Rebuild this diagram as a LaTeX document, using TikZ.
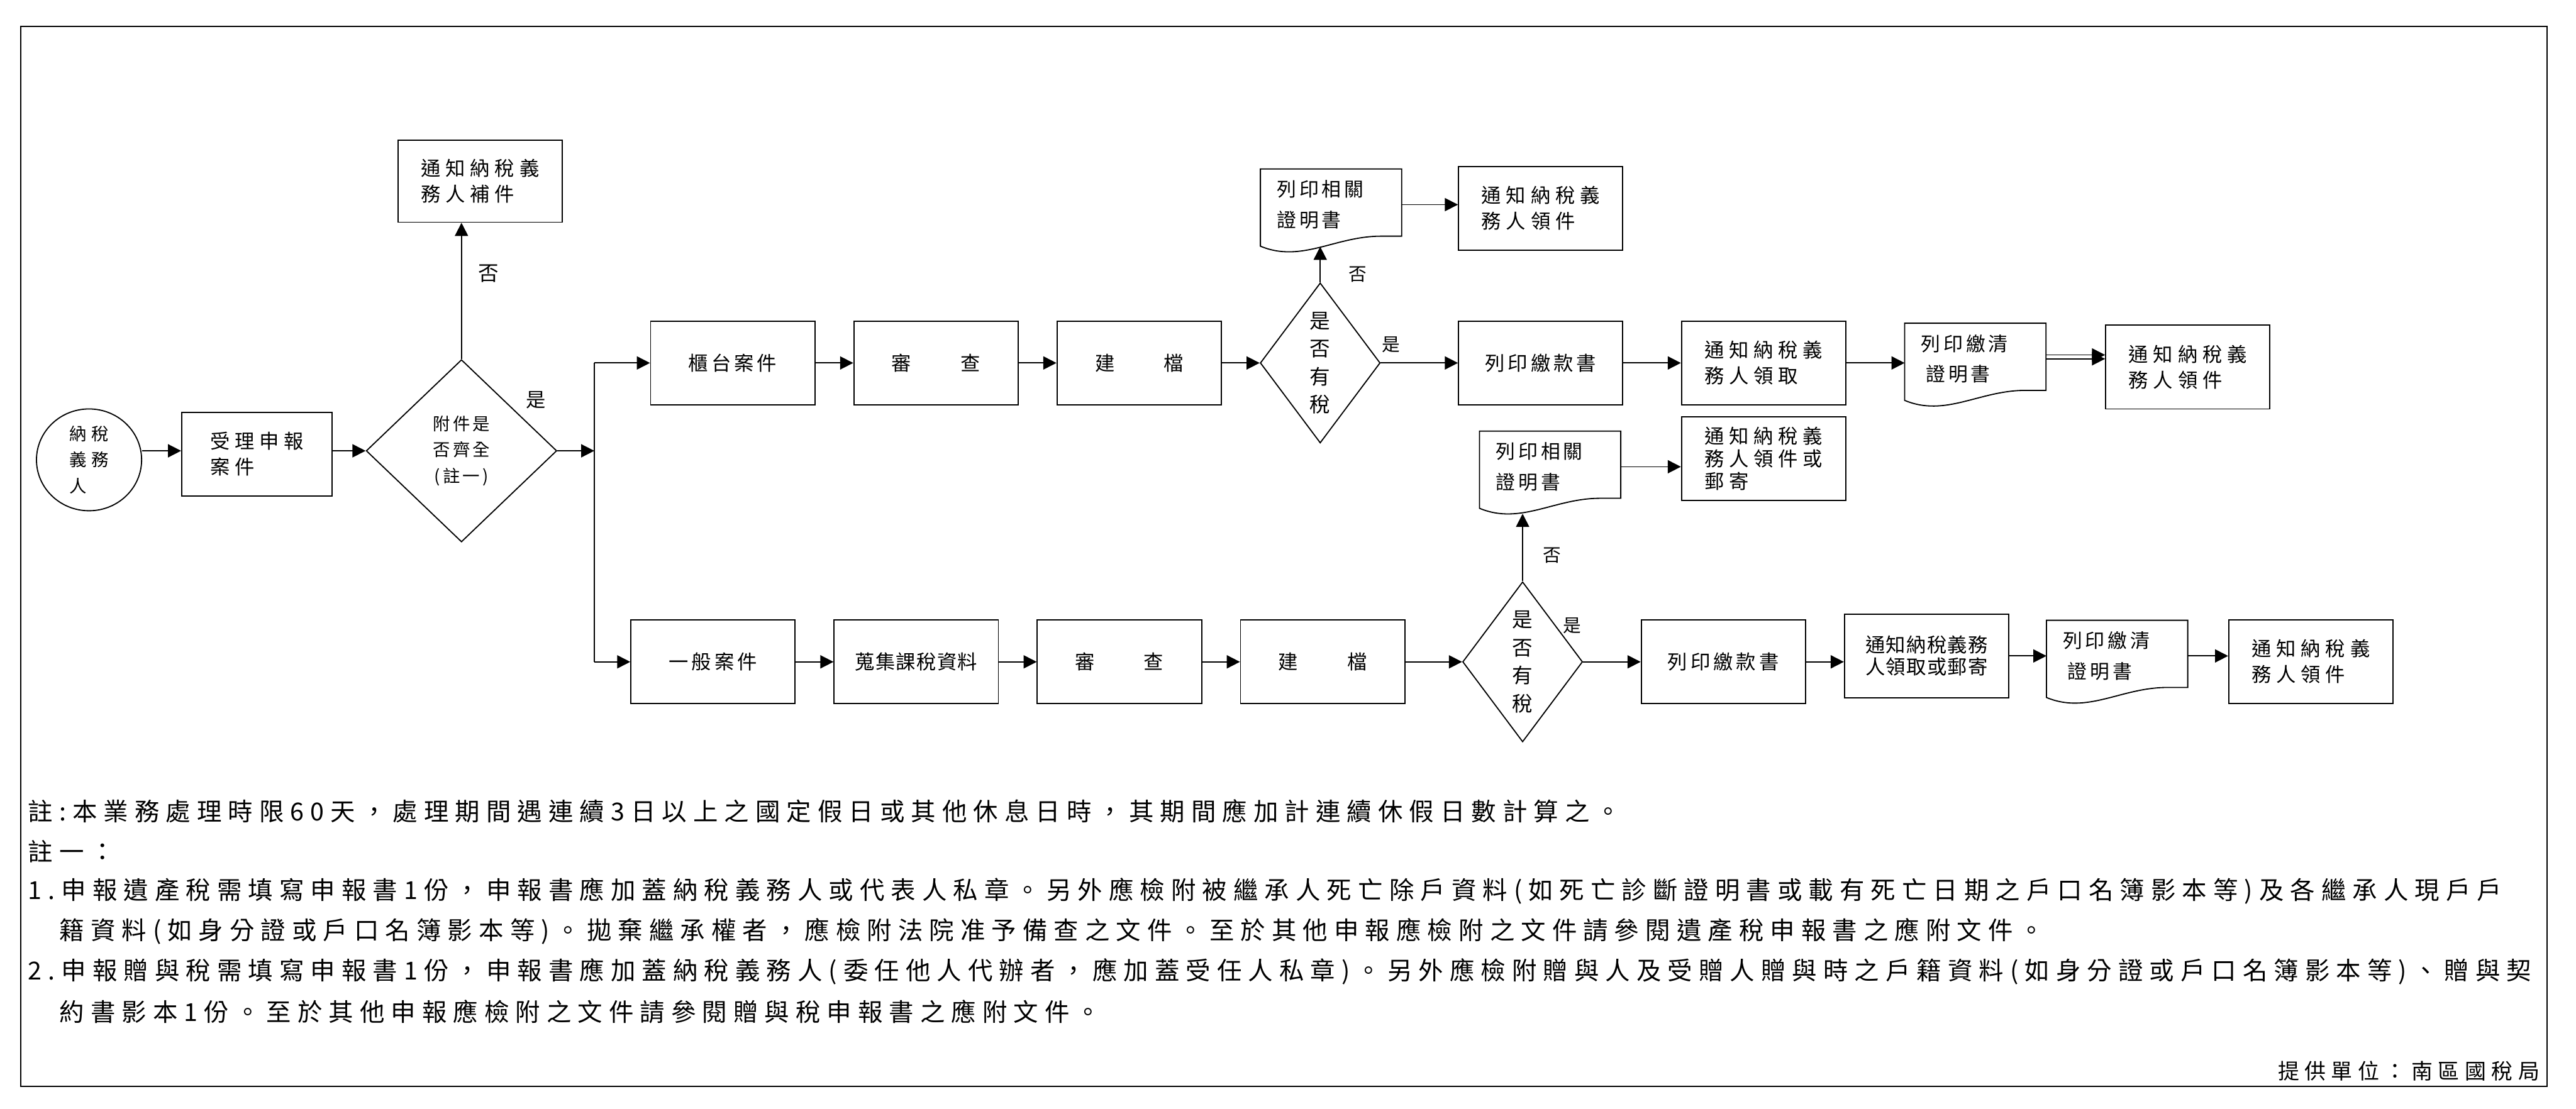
\documentclass[tikz,border=0pt]{standalone}
\usepackage{fontspec}
\setmainfont{Noto Sans CJK TC}
\newfontfamily\cjkwide{Noto Sans CJK TC}[LetterSpace=25]
\newfontfamily\cjkmid{Noto Sans CJK TC}[LetterSpace=16]
\newfontfamily\cjktight{Noto Sans CJK TC}[LetterSpace=4]
\newfontfamily\cjknote{Noto Sans CJK TC}[LetterSpace=25.5]
\usetikzlibrary{shapes.geometric,arrows.meta,positioning,calc}
\newcommand{\docframe}[1]{%
  \draw[line width=0.7pt] (#1.north west) -- ([yshift=-3.6pt]#1.south west)
    .. controls +(25pt,-10.4pt) and +(-28pt,0pt) .. ([xshift=-12.6pt,yshift=2.5pt]#1.south east)
    -- ([yshift=2.5pt]#1.south east) -- (#1.north east) -- cycle;}
\tikzset{
  procbox/.style ={rectangle, draw, line width=0.7pt, minimum width=100pt, minimum height=51pt,
                   inner sep=2pt, align=left, font=\cjkwide\fontsize{12}{15.7}\selectfont},
  procmid/.style ={procbox, font=\cjkmid\fontsize{12}{15.7}\selectfont},
  proctight/.style={procbox, font=\cjktight\fontsize{12}{13.5}\selectfont},
  actor/.style   ={ellipse, draw, line width=0.7pt, minimum width=64pt, minimum height=62pt,
                   inner sep=0pt, align=left, font=\cjkwide\fontsize{10.5}{15.8}\selectfont},
  check/.style   ={diamond, draw, line width=0.7pt, aspect=1.045, minimum width=116pt,
                   minimum height=111pt, inner sep=0pt, align=center,
                   font=\cjkmid\fontsize{10.5}{16}\selectfont},
  taxdia/.style  ={diamond, draw, line width=0.7pt, aspect=0.76, minimum width=73pt,
                   minimum height=97.5pt, inner sep=0pt, align=center,
                   font=\cjkwide\fontsize{12.5}{17}\selectfont},
  docbox/.style  ={rectangle, minimum width=85.6pt, minimum height=43pt, inner sep=0pt,
                   text width=66pt, align=left, font=\cjkmid\fontsize{11.8}{18.6}\selectfont},
  flow/.style    ={-{Triangle[length=8pt,width=8pt]}, line width=0.7pt},
  lbl/.style     ={inner sep=0pt, font=\cjkwide\fontsize{11}{13}\selectfont},
  notetext/.style={anchor=west, inner sep=0pt, font=\cjknote\fontsize{15.1}{18}\selectfont}
}
\begin{document}
\begin{tikzpicture}[x=1pt, y=1pt]
\useasboundingbox (0,0) rectangle (1568,-675);
\draw[line width=0.8pt] (12.8,-16) rectangle (1550.5,-661.5);

\node[actor] (tp) at (54.2,-280) {納稅\\義務\\人};
\node[procbox, minimum width=91.6pt, right=23.7pt of tp, yshift=3.5pt] (acc) {受理申報\\案件};
\node[check, right=20pt of acc, yshift=2pt] (chk) {附件是\\否齊全\\(註一)};
\node[procbox, minimum height=50pt, above=83pt of chk, xshift=11.3pt] (sup) {通知納稅義\\務人補件};
\coordinate (split) at ([xshift=22.5pt]chk.east);
\node[lbl, font=\cjkwide\fontsize{12}{13}\selectfont] (yes0) at ([xshift=-13pt,yshift=31pt]chk.east) {是};

\node[procmid] (ctr) at (446,-221) {櫃台案件};
\node[procmid, right=23pt of ctr] (rev1) {審　　查};
\node[procmid, right=23pt of rev1] (arc1) {建　　檔};
\node[taxdia, right=23pt of arc1] (tax1) {是\\否\\有\\稅};
\node[procmid, right=47pt of tax1] (pay1) {列印繳款書};
\node[procbox, right=35pt of pay1] (ntf1) {通知納稅義\\務人領取};
\node[docbox, right=35.5pt of ntf1, yshift=2.5pt] (clr1) {列印繳清\\\hspace*{3pt}證明書};
\node[procbox, right=36pt of clr1, yshift=-5pt] (get1) {通知納稅義\\務人領件};
\node[docbox, above=25.6pt of tax1, xshift=6.6pt] (prt1) {列印相關\\證明書};
\node[procbox, above=42.5pt of pay1] (get0) {通知納稅義\\務人領件};
\node[procbox, below=6.5pt of ntf1, font=\cjkwide\fontsize{12}{13.8}\selectfont] (mail) {通知納稅義\\務人領件或\\郵寄};
\node[docbox, left=36.6pt of mail, yshift=-5pt] (prt2) {列印相關\\證明書};

\node[procmid] (gen) at (434,-403) {一般案件};
\node[proctight, right=23pt of gen] (col) {蒐集課稅資料};
\node[procmid, right=23pt of col] (rev2) {審　　查};
\node[procmid, right=23pt of rev2] (arc2) {建　　檔};
\node[taxdia, right=34.5pt of arc2] (tax2) {是\\否\\有\\稅};
\node[procmid, right=35pt of tax2] (pay2) {列印繳款書};
\node[proctight, right=23pt of pay2, yshift=3.6pt] (ntf2) {通知納稅義務\\人領取或郵寄};
\node[docbox, right=22.6pt of ntf2] (clr2) {列印繳清\\\hspace*{3pt}證明書};
\node[procbox, right=24.6pt of clr2, yshift=-3.4pt] (get2) {通知納稅義\\務人領件};
\node[lbl] (yes3) at ([xshift=-6.5pt,yshift=22pt]tax2.east) {是};

\docframe{prt1}
\docframe{clr1}
\docframe{prt2}
\docframe{clr2}
\coordinate (prt1bot) at ([yshift=-3.9pt]prt1.south);
\coordinate (prt2bot) at ([yshift=-6.9pt]prt2.south);

\draw[flow] (tp.east |- chk.west) -- (acc.west |- chk.west);
\draw[flow] (acc.east |- chk.west) -- (chk.west);
\draw[flow] (chk.north) -- node[lbl, pos=0.63, right=10pt, font=\cjkwide\fontsize{12.5}{14}\selectfont]{否} (chk.north |- sup.south);
\draw[flow] (chk.east) -- (split);
\draw[line width=0.7pt] (split |- ctr.west) -- (split |- gen.west);
\draw[flow] (split |- ctr.west) -- (ctr.west);
\draw[flow] (split |- gen.west) -- (gen.west);

\draw[flow] (ctr) -- (rev1);
\draw[flow] (rev1) -- (arc1);
\draw[flow] (arc1) -- (tax1);
\draw[flow] (tax1) -- node[lbl, pos=0.13, above=6pt]{是} (pay1);
\draw[flow] (pay1) -- (ntf1);
\draw[flow] (ntf1.east) -- (ntf1.east -| clr1.west);
\draw[flow] (clr1.east) -- (clr1.east -| get1.west);
\draw[flow, transform canvas={yshift=2.4pt}] (clr1.east) -- (clr1.east -| get1.west);
\draw[flow] (tax1.north) -- node[lbl, pos=0.22, right=17pt]{否} (tax1.north |- prt1bot);
\draw[flow] (prt1.east) -- (prt1.east -| get0.west);
\draw[flow] (prt2.east) -- (prt2.east -| mail.west);

\draw[flow] (gen) -- (col);
\draw[flow] (col) -- (rev2);
\draw[flow] (rev2) -- (arc2);
\draw[flow] (arc2) -- (tax2);
\draw[flow] (tax2) -- (pay2);
\draw[flow] (pay2.east) -- (pay2.east -| ntf2.west);
\draw[flow] (ntf2) -- (clr2);
\draw[flow] (clr2.east) -- (clr2.east -| get2.west);
\draw[flow] (tax2.north) -- node[lbl, pos=0.38, right=12pt]{否} (tax2.north |- prt2bot);

\node[notetext] (n1) at (17,-493.9) {註:本業務處理時限60天，處理期間遇連續3日以上之國定假日或其他休息日時，其期間應加計連續休假日數計算之。};
\node[notetext, below=24.4pt of n1.west, anchor=west] (n2) {註一：};
\node[notetext, below=24.4pt of n2.west, anchor=west] (n3) {1.申報遺產稅需填寫申報書1份，申報書應加蓋納稅義務人或代表人私章。另外應檢附被繼承人死亡除戶資料(如死亡診斷證明書或載有死亡日期之戶口名簿影本等)及各繼承人現戶戶};
\node[notetext, below=24.4pt of n3.west, anchor=west, xshift=19pt] (n4) {籍資料(如身分證或戶口名簿影本等)。拋棄繼承權者，應檢附法院准予備查之文件。至於其他申報應檢附之文件請參閱遺產稅申報書之應附文件。};
\node[notetext, below=24.4pt of n3.west, anchor=west, yshift=-24.4pt] (n5) {2.申報贈與稅需填寫申報書1份，申報書應加蓋納稅義務人(委任他人代辦者，應加蓋受任人私章)。另外應檢附贈與人及受贈人贈與時之戶籍資料(如身分證或戶口名簿影本等)、贈與契};
\node[notetext, below=24.4pt of n5.west, anchor=west, xshift=19pt] (n6) {約書影本1份。至於其他申報應檢附之文件請參閱贈與稅申報書之應附文件。};
\node[notetext, anchor=east, font=\cjkwide\fontsize{13}{15}\selectfont] (src) at (1546,-652) {提供單位：南區國稅局};
\end{tikzpicture}
\end{document}
